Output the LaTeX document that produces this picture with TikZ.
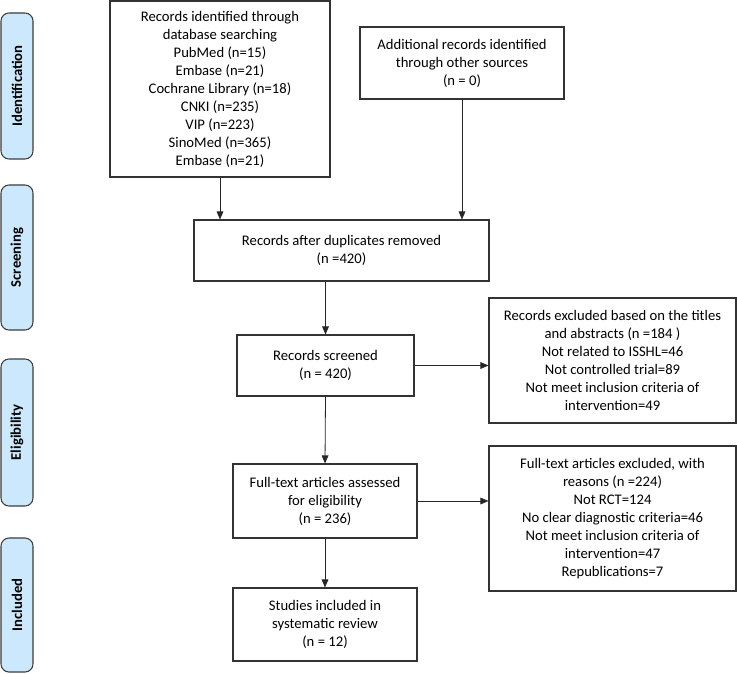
\documentclass[tikz,border=0pt]{standalone}
\usepackage{fontspec}
\setmainfont{Carlito}
\usetikzlibrary{arrows.meta}
\definecolor{stagefill}{HTML}{CCE8FC}
\definecolor{stageline}{HTML}{3C3C3C}
\tikzset{
  box/.style={draw=black!80, line width=0.8pt, align=center, inner sep=2pt,
    font=\fontsize{11}{13.5}\selectfont},
  stage/.style={draw=stageline, fill=stagefill, line width=0.8pt, rounded corners=6pt,
    minimum height=32*0.75pt, rotate=90, font=\fontsize{11}{13.5}\selectfont\bfseries},
  flow/.style={-{Triangle[length=6pt,width=5pt]}, line width=0.6pt, black!85}
}
\begin{document}
\begin{tikzpicture}[x=0.75pt, y=-0.75pt]
\useasboundingbox (0,0) rectangle (737,673);
% stage labels on the left
\node[stage, minimum width=146*0.75pt] (sIdent) at (17,86) {Identification};
\node[stage, minimum width=145*0.75pt] (sScreen) at (17,257.5) {Screening};
\node[stage, minimum width=147*0.75pt] (sElig) at (17,432.5) {Eligibility};
\node[stage, minimum width=134*0.75pt] (sIncl) at (17,605) {Included};
% flow boxes
\node[box, minimum width=220*0.75pt, minimum height=176*0.75pt] (db) at (220,89)
  {Records identified through\\database searching\\PubMed (n=15)\\Embase (n=21)\\
   Cochrane Library (n=18)\\CNKI (n=235)\\VIP (n=223)\\SinoMed (n=365)\\Embase (n=21)};
\node[box, minimum width=204*0.75pt, minimum height=72*0.75pt] (other) at (462,63)
  {Additional records identified\\through other sources\\(n = 0)};
\node[box, minimum width=295*0.75pt, minimum height=61*0.75pt] (dedup) at (341.5,250.5)
  {Records after duplicates removed\\(n =420)};
\node[box, minimum width=177*0.75pt, minimum height=61*0.75pt] (screen) at (325.5,365.5)
  {Records screened\\(n = 420)};
\node[box, minimum width=247*0.75pt, minimum height=125*0.75pt] (exclA) at (612.5,360.5)
  {Records excluded based on the titles\\and abstracts (n =184 )\\Not related to ISSHL=46\\
   Not controlled trial=89\\Not meet inclusion criteria of\\intervention=49};
\node[box, minimum width=184*0.75pt, minimum height=74*0.75pt] (full) at (325,501)
  {Full-text articles assessed\\for eligibility\\(n = 236)};
\node[box, minimum width=247*0.75pt, minimum height=145*0.75pt] (exclB) at (612.5,518.5)
  {Full-text articles excluded, with\\reasons (n =224)\\Not RCT=124\\
   No clear diagnostic criteria=46\\Not meet inclusion criteria of\\intervention=47\\
   Republications=7};
\node[box, minimum width=184*0.75pt, minimum height=73*0.75pt] (incl) at (325,624.5)
  {Studies included in\\systematic review\\(n = 12)};
% connectors
\draw[flow] (db.south) -- (db.south |- dedup.north);
\draw[flow] (other.south) -- (other.south |- dedup.north);
\draw[flow] (dedup.south -| screen.north) -- (screen.north);
\draw[flow] (screen.east) -- (screen.east -| exclA.west);
\draw[flow] (screen.south) -- (full.north);
\draw[flow] (full.east) -- (full.east -| exclB.west);
\draw[flow] (full.south) -- (incl.north);
\end{tikzpicture}
\end{document}
